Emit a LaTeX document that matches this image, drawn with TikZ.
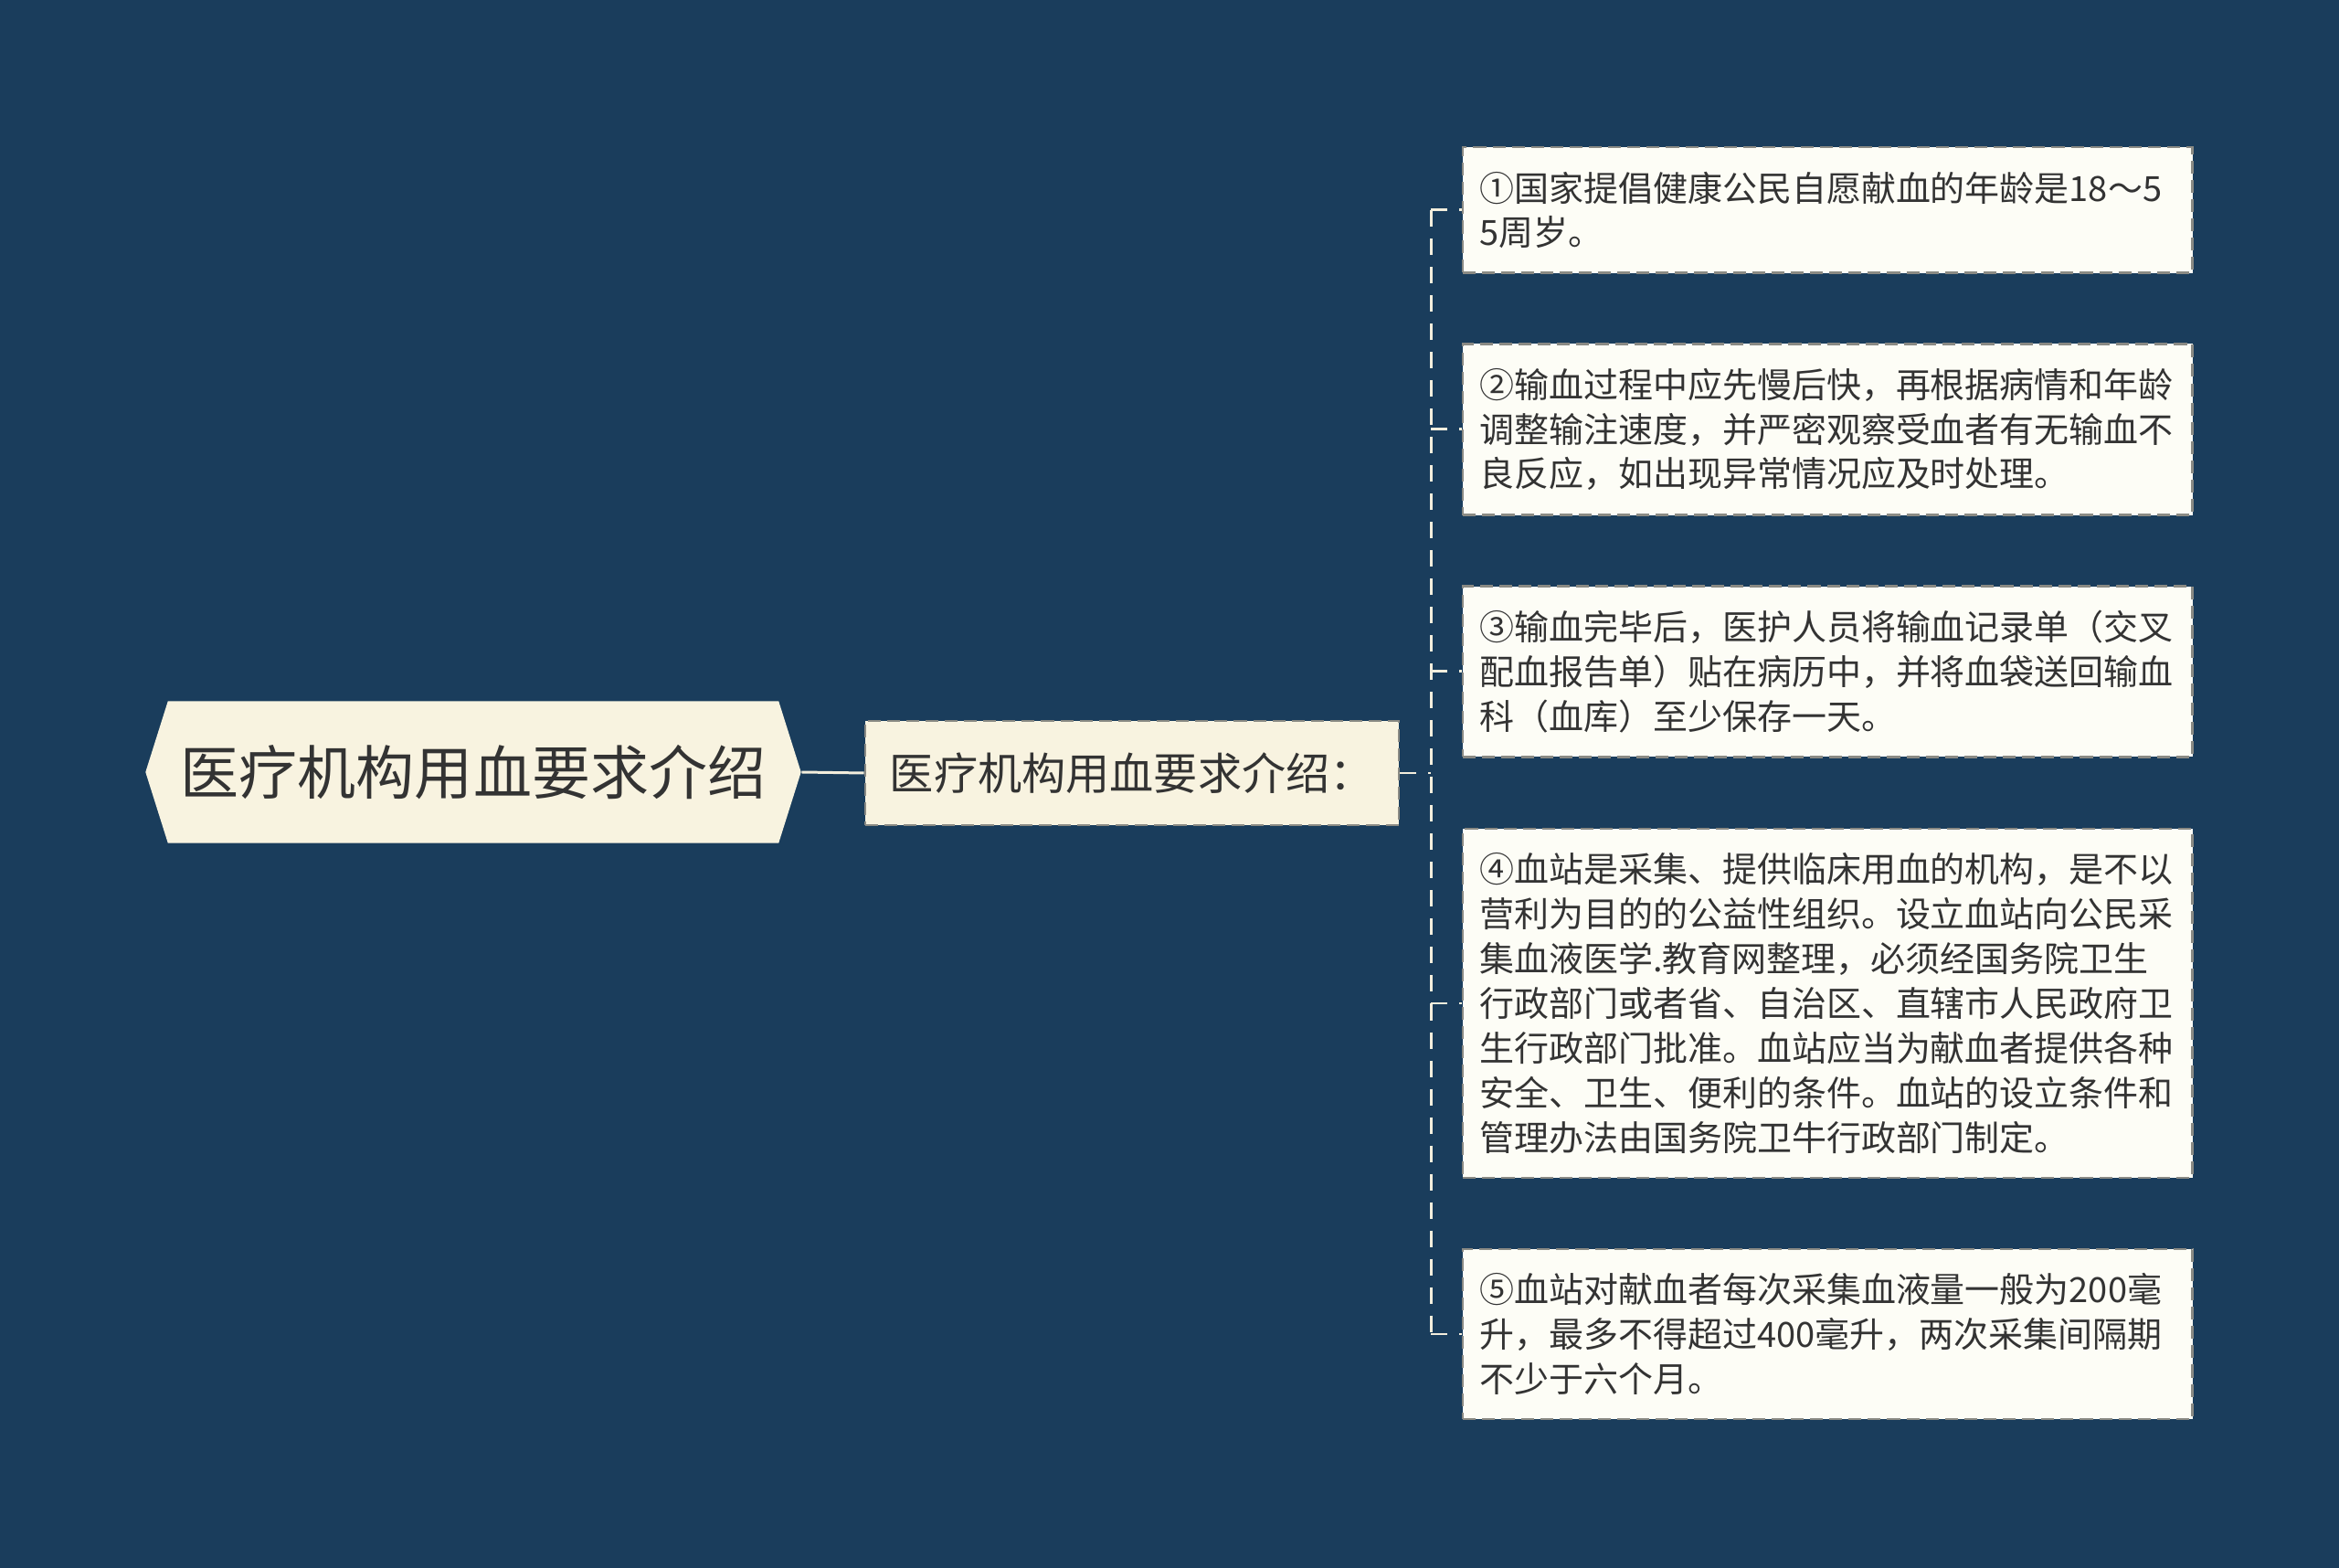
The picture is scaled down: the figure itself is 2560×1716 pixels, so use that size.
\documentclass[tikz,border=0pt]{standalone}
\usepackage{fontspec}
\setmainfont{Noto Sans CJK SC}
\usepackage{xcolor}
\usetikzlibrary{shapes.symbols}
\definecolor{bgblue}{HTML}{1A3D5C}
\definecolor{rootfill}{HTML}{F8F3E0}
\definecolor{leaffill}{HTML}{FDFDF6}
\definecolor{inkgray}{HTML}{333333}
\definecolor{linecream}{HTML}{F3EEDD}
\definecolor{edgegray}{HTML}{8A8A84}

\begin{document}
\begin{tikzpicture}[x=0.01cm,y=-0.01cm]
\tikzstyle{every node}=[text=inkgray]
\tikzstyle{rootbox}=[shape=signal, signal to=west and east, signal pointer angle=145, fill=rootfill, inner xsep=0pt, minimum height=1.55cm, minimum width=7.17cm, font=\fontsize{18.2}{22}\selectfont]
\tikzstyle{midbox}=[fill=rootfill, draw=edgegray, line width=0.7pt, dash pattern=on 4pt off 2pt, text width=5.3cm, align=left, inner xsep=0.27cm, minimum height=1.14cm, font=\fontsize{13.7}{16}\selectfont]
\tikzstyle{leafbox}=[fill=leaffill, draw=edgegray, line width=0.7pt, dash pattern=on 4pt off 2pt, text width=7.62cm, align=left, inner xsep=0.18cm, inner ysep=0.265cm, font=\fontsize{10.8}{13.9}\selectfont]
\tikzstyle{link}=[linecream, line width=0.85pt, dash pattern=on 0.18cm off 0.13cm]
\fill[bgblue] (0,0) rectangle (2560,1716);
\node[rootbox] (root) at (518,845) {医疗机构用血要求介绍};
\node[midbox] (intro) at (1239,846) {医疗机构用血要求介绍：};
\node[leafbox, anchor=west] (age) at (1600,230) {①国家提倡健康公民自愿献血的年龄是18～5\\5周岁。};
\node[leafbox, anchor=west] (speed) at (1600,470) {②输血过程中应先慢后快，再根据病情和年龄\\调整输注速度，并严密观察受血者有无输血不\\良反应，如出现异常情况应及时处理。};
\node[leafbox, anchor=west] (record) at (1600,735) {③输血完毕后，医护人员将输血记录单（交叉\\配血报告单）贴在病历中，并将血袋送回输血\\科（血库）至少保存一天。};
\node[leafbox, anchor=west] (station) at (1600,1098) {④血站是采集、提供临床用血的机构，是不以\\营利为目的的公益性组织。设立血站向公民采\\集血液医学.教育网整理，必须经国务院卫生\\行政部门或者省、自治区、直辖市人民政府卫\\生行政部门批准。血站应当为献血者提供各种\\安全、卫生、便利的条件。血站的设立条件和\\管理办法由国务院卫牛行政部门制定。};
\node[leafbox, anchor=west] (limit) at (1600,1460) {⑤血站对献血者每次采集血液量一般为200毫\\升，最多不得超过400毫升，两次采集间隔期\\不少于六个月。};
\coordinate (fork) at (1566,846);
\draw[linecream, line width=0.85pt] (root.east) -- (intro.west);
\draw[link] (intro.east) -- (fork);
\draw[link] (fork |- age.west) -- (fork |- limit.west);
\foreach \n in {age,speed,record,station,limit}
  \draw[link] (fork |- \n.west) -- (\n.west);
\end{tikzpicture}
\end{document}
